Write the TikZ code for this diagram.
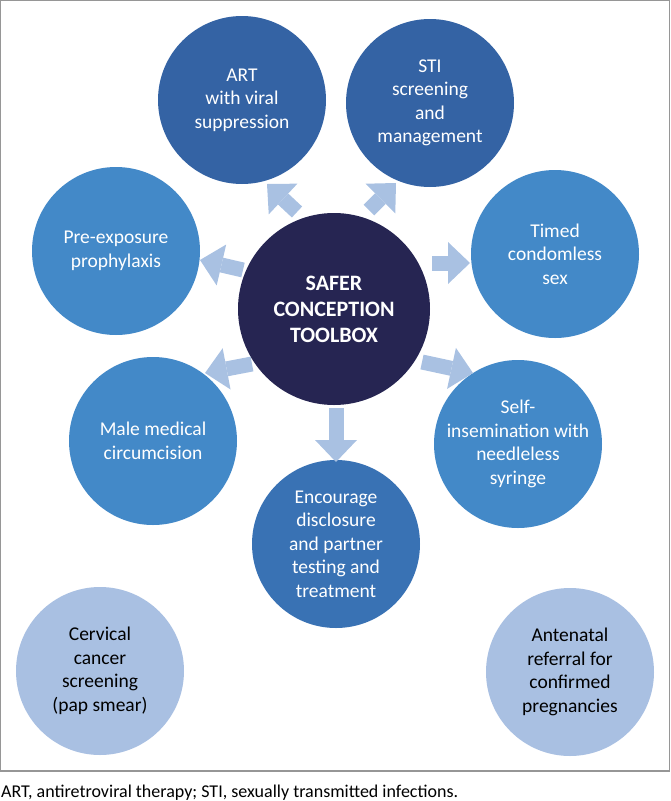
\documentclass[tikz,border=0pt]{standalone}
\usepackage{fontspec}
\setmainfont{Carlito}
\usetikzlibrary{arrows.meta}
\definecolor{hubblue}{RGB}{38,37,82}
\definecolor{deepblue}{RGB}{52,99,164}
\definecolor{midblue}{RGB}{67,137,200}
\definecolor{encblue}{RGB}{57,114,180}
\definecolor{paleblue}{RGB}{169,192,226}
\definecolor{arrowblue}{RGB}{169,193,226}
\definecolor{framegray}{RGB}{150,150,150}

\begin{document}
\begin{tikzpicture}[x=1pt, y=-1pt,
    tool/.style = {circle, minimum size=168pt, inner sep=0pt, align=center,
                   text=white, font=\fontsize{19.5}{23.5}\selectfont},
    hub/.style = {tool, minimum size=192pt, fill=hubblue,
                  font=\fontsize{22}{26}\selectfont\bfseries},
    pale/.style = {tool, fill=paleblue, text=black},
    blockarrow/.style = {draw=arrowblue, line width=15pt,
                         -{Triangle[width=42pt, length=22pt, line width=0pt]}}]
  \useasboundingbox (0,0) rectangle (670,801);
  \draw[framegray, line width=1.2pt] (0.6,0.6) rectangle (669.4,771);

  \node[hub] (h) at (334,309) {SAFER\\CONCEPTION\\TOOLBOX};

  \node[tool, fill=deepblue] (art) at (242,100) {ART\\with viral\\suppression};
  \node[tool, fill=deepblue] (sti) at (430,103) {STI\\screening\\and\\management};
  \node[tool, fill=midblue] (prep) at (116,251) {Pre-exposure\\prophylaxis};
  \node[tool, fill=midblue] (tcs) at (555,254) {Timed\\condomless\\sex};
  \node[tool, fill=midblue] (mmc) at (153,441) {Male medical\\circumcision};
  \node[tool, fill=midblue] (si) at (518,444) {Self-\\insemination with\\needleless\\syringe};
  \node[tool, fill=encblue] (enc) at (336,544) {Encourage\\disclosure\\and partner\\testing and\\treatment};
  \node[pale] (ccs) at (100,671) {Cervical\\cancer\\screening\\(pap smear)};
  \node[pale] (anc) at (570,672) {Antenatal\\referral for\\confirmed\\pregnancies};

  \coordinate (art0) at (297,212);
  \coordinate (art1) at (267,184);
  \coordinate (sti0) at (369,210);
  \coordinate (sti1) at (396,183);
  \coordinate (prep0) at (243,270);
  \coordinate (prep1) at (200,260);
  \coordinate (tcs0) at (432,263);
  \coordinate (tcs1) at (470,263);
  \coordinate (mmc0) at (252,364);
  \coordinate (mmc1) at (205,373);
  \coordinate (si0) at (422,362);
  \coordinate (si1) at (473,373);
  \coordinate (enc0) at (336,408);
  \coordinate (enc1) at (336,462);

  \draw[blockarrow] (art0) -- (art1);
  \draw[blockarrow] (sti0) -- (sti1);
  \draw[blockarrow] (prep0) -- (prep1);
  \draw[blockarrow] (tcs0) -- (tcs1);
  \draw[blockarrow] (mmc0) -- (mmc1);
  \draw[blockarrow] (si0) -- (si1);
  \draw[blockarrow] (enc0) -- (enc1);

  \node[anchor=base west, inner sep=0pt, font=\fontsize{18}{21}\selectfont] (note)
    at (1,797) {ART, antiretroviral therapy; STI, sexually transmitted infections.};
\end{tikzpicture}
\end{document}
